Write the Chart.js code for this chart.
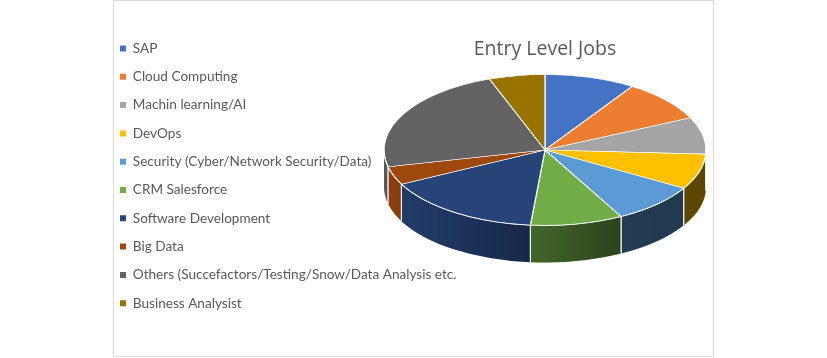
<!DOCTYPE html>
<html>
<head>
<meta charset="utf-8">
<script src="https://cdn.jsdelivr.net/npm/chart.js@4.4.1/dist/chart.umd.min.js"></script>
<style>
html, body { margin: 0; padding: 0; background: #ffffff; }
#wrap { position: relative; width: 827px; height: 358px; }
#frame { position: absolute; left: 113px; top: 0; width: 601px; height: 357px; border: 1px solid #d9d9d9; box-sizing: border-box; pointer-events: none; }
canvas { display: block; }
</style>
</head>
<body>
<div id="wrap">
  <canvas id="c" width="827" height="358"></canvas>
  <div id="frame"></div>
</div>
<script>
const titleText = 'Entry Level Jobs';
const categories = [
  'SAP',
  'Cloud Computing',
  'Machin learning/AI',
  'DevOps',
  'Security (Cyber/Network Security/Data)',
  'CRM Salesforce',
  'Software Development',
  'Big Data',
  'Others (Succefactors/Testing/Snow/Data Analysis etc.',
  'Business Analysist'
];
const shares = [9.1, 8.9, 7.9, 7.6, 8.7, 9.3, 16.1, 3.9, 23.0, 5.6];
const sliceColors = ['#4472C4', '#ED7D31', '#A5A5A5', '#FFC000', '#5B9BD5', '#70AD47', '#264478', '#9E480E', '#636363', '#997300'];

Chart.defaults.font.family = 'Lato, "Open Sans", sans-serif';

// widens the legend's drawing (clip) region so long labels may run under the pie area
const legendOverflow = {
  id: 'legendOverflow',
  afterLayout(chart, args, opts) {
    const lg = chart.legend;
    if (lg) { lg.right = lg.left + opts.width; lg.width = opts.width; }
  }
};

const pie3d = {
  id: 'pie3d',
  beforeDatasetsDraw(chart, args, opts) {
    const ctx = chart.ctx;
    const arcs = chart.getDatasetMeta(0).data;
    if (!arcs.length) return;
    const cx = arcs[0].x, cy0 = arcs[0].y, R = arcs[0].outerRadius;
    const Y = opts.centerY, k = opts.tilt, D = opts.depth, ry = R * k;
    const grad = ctx.createLinearGradient(cx - R, 0, cx + R, 0);
    opts.shade.forEach(([p, a]) => grad.addColorStop(p, 'rgba(0,0,0,' + a + ')'));
    const edges = [];
    arcs.forEach((arc) => {
      const a1 = Math.max(arc.startAngle, 0), a2 = Math.min(arc.endAngle, Math.PI);
      if (a2 <= a1) return;
      ctx.beginPath();
      ctx.ellipse(cx, Y, R, ry, 0, a1, a2);
      ctx.lineTo(cx + R * Math.cos(a2), Y + ry * Math.sin(a2) + D);
      ctx.ellipse(cx, Y + D, R, ry, 0, a2, a1, true);
      ctx.closePath();
      ctx.fillStyle = arc.options.backgroundColor;
      ctx.fill();
      ctx.fillStyle = grad;
      ctx.fill();
      if (a1 === arc.startAngle) edges.push(a1);
      if (a2 === arc.endAngle) edges.push(a2);
    });
    ctx.strokeStyle = 'rgba(255,255,255,0.85)';
    ctx.lineWidth = 1;
    edges.forEach((a) => {
      const px = cx + R * Math.cos(a), py = Y + ry * Math.sin(a);
      ctx.beginPath();
      ctx.moveTo(px, py);
      ctx.lineTo(px, py + D);
      ctx.stroke();
    });
    ctx.save();
    ctx.translate(cx, Y);
    ctx.scale(1, k);
    ctx.translate(-cx, -cy0);
  },
  afterDatasetsDraw(chart, args, opts) {
    const ctx = chart.ctx;
    const arcs = chart.getDatasetMeta(0).data;
    if (!arcs.length) return;
    ctx.restore();
    const cx = arcs[0].x, R = arcs[0].outerRadius;
    ctx.beginPath();
    ctx.ellipse(cx, opts.centerY, R, R * opts.tilt, 0, 0, Math.PI);
    ctx.strokeStyle = 'rgba(255,255,255,0.75)';
    ctx.lineWidth = 1;
    ctx.stroke();
  }
};

new Chart(document.getElementById('c'), {
  type: 'pie',
  data: {
    labels: categories,
    datasets: [{
      data: shares,
      backgroundColor: sliceColors,
      borderColor: '#ffffff',
      borderWidth: 1.2,
      radius: 161,
      clip: false
    }]
  },
  options: {
    responsive: false,
    animation: false,
    events: [],
    layout: { padding: { left: 105.3, top: 27, right: 0, bottom: 0 } },
    plugins: {
      pie3d: {
        centerY: 150,
        tilt: 0.469,
        depth: 37,
        shade: [[0, 0.12], [0.1, 0.15], [0.45, 0.4], [0.5, 0.44], [0.73, 0.61], [1, 0.64]]
      },
      legendOverflow: { width: 420 },
      tooltip: { enabled: false },
      title: {
        display: true,
        text: titleText,
        fullSize: false,
        color: '#595959',
        font: { family: '"Open Sans", Lato, sans-serif', size: 19.5, weight: 'normal' },
        padding: { top: 11, bottom: 0 }
      },
      legend: {
        position: 'left',
        align: 'start',
        maxWidth: 157.7,
        labels: {
          boxWidth: 6,
          boxHeight: 6,
          padding: 14.7,
          color: '#595959',
          font: { size: 13.6 },
          generateLabels(chart) {
            const items = Chart.overrides.pie.plugins.legend.labels.generateLabels(chart);
            items.forEach((it) => { it.lineWidth = 0; it.strokeStyle = 'rgba(0,0,0,0)'; });
            return items;
          }
        }
      }
    }
  },
  plugins: [legendOverflow, pie3d]
});
</script>
</body>
</html>
